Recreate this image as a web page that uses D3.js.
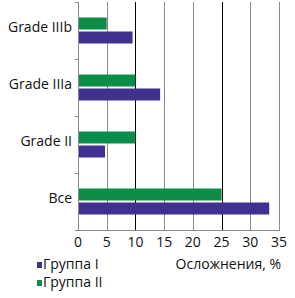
<!DOCTYPE html>
<html>
<head>
<meta charset="utf-8">
<script src="https://cdn.jsdelivr.net/npm/d3@7"></script>
<style>
  body { margin: 0; background: #fff; }
  svg { display: block; font-family: "Open Sans", sans-serif; }
</style>
</head>
<body>
<div id="chart"></div>
<script>
"use strict";

// chart data
const categories = ["Grade IIIb", "Grade IIIa", "Grade II", "Все"];
const group1 = [9.5, 14.3, 4.7, 33.3];
const group2 = [5, 10, 10, 25];
const seriesNames = ["Группа I", "Группа II"];
const ticks = [0, 5, 10, 15, 20, 25, 30, 35];

const W = 295, H = 298;
const margin = { top: 2, right: 16, bottom: 68, left: 78 };
const purple = "#41308f", green = "#0b8c47";
const fs = 14;

const svg = d3.select("#chart").append("svg")
  .attr("width", W).attr("height", H);

const x = d3.scaleLinear().domain([0, 35]).range([margin.left, W - margin.right]);
const y = d3.scaleBand().domain(categories).range([margin.top, H - margin.bottom]);

// gridlines
svg.selectAll(".grid")
  .data(ticks.slice(1))
  .enter().append("line")
  .attr("x1", d => Math.round(x(d)) + 0.5).attr("x2", d => Math.round(x(d)) + 0.5)
  .attr("y1", margin.top).attr("y2", H - margin.bottom)
  .attr("stroke", d => (d === 10 || d === 25) ? "#000" : "#8a8a8a")
  .attr("stroke-width", 1);

// bars
const barH = 12;
svg.selectAll(".g2")
  .data(categories)
  .enter().append("rect")
  .attr("x", x(0))
  .attr("y", d => y(d) + y.bandwidth() / 2 - barH - 1)
  .attr("width", (d, i) => x(group2[i]) - x(0))
  .attr("height", barH)
  .attr("fill", green);

svg.selectAll(".g1")
  .data(categories)
  .enter().append("rect")
  .attr("x", x(0))
  .attr("y", d => y(d) + y.bandwidth() / 2 + 1)
  .attr("width", (d, i) => x(group1[i]) - x(0))
  .attr("height", barH)
  .attr("fill", purple);

// axes
const axisY = Math.round(H - margin.bottom) + 0.5;
svg.append("line")
  .attr("x1", Math.round(x(0)) + 0.5).attr("x2", Math.round(x(0)) + 0.5)
  .attr("y1", margin.top).attr("y2", axisY)
  .attr("stroke", "#8a8a8a");
svg.append("line")
  .attr("x1", x(0)).attr("x2", x(35) + 1)
  .attr("y1", axisY).attr("y2", axisY)
  .attr("stroke", "#8a8a8a");

// y ticks at band edges
const edges = categories.map(d => y(d)).concat([H - margin.bottom]);
svg.selectAll(".ytick")
  .data(edges)
  .enter().append("line")
  .attr("x1", x(0) - 3).attr("x2", x(0))
  .attr("y1", d => Math.round(d) + 0.5).attr("y2", d => Math.round(d) + 0.5)
  .attr("stroke", "#8a8a8a");

// category labels
svg.selectAll(".cat")
  .data(categories)
  .enter().append("text")
  .attr("x", x(0) - 6)
  .attr("y", d => y(d) + y.bandwidth() / 2 - 2)
  .attr("text-anchor", "end")
  .attr("dominant-baseline", "middle")
  .attr("font-size", fs)
  .attr("fill", "#111")
  .text(d => d);

// x tick labels
svg.selectAll(".xt")
  .data(ticks)
  .enter().append("text")
  .attr("x", d => x(d))
  .attr("y", 243)
  .attr("text-anchor", "middle")
  .attr("dominant-baseline", "middle")
  .attr("font-size", fs)
  .attr("fill", "#111")
  .text(d => d);

// axis title
svg.append("text")
  .attr("x", 281).attr("y", 265)
  .attr("text-anchor", "end")
  .attr("dominant-baseline", "middle")
  .attr("font-size", fs)
  .attr("fill", "#111")
  .text("Осложнения, %");

// legend
const legColors = [purple, green];
const leg = svg.selectAll(".leg")
  .data(seriesNames)
  .enter().append("g")
  .attr("transform", (d, i) => `translate(37, ${265 + i * 18})`);
leg.append("rect")
  .attr("x", 0).attr("y", -3)
  .attr("width", 5).attr("height", 6)
  .attr("fill", (d, i) => legColors[i]);
leg.append("text")
  .attr("x", 6).attr("y", 0)
  .attr("dominant-baseline", "middle")
  .attr("font-size", fs)
  .attr("fill", "#111")
  .text(d => d);
</script>
</body>
</html>
